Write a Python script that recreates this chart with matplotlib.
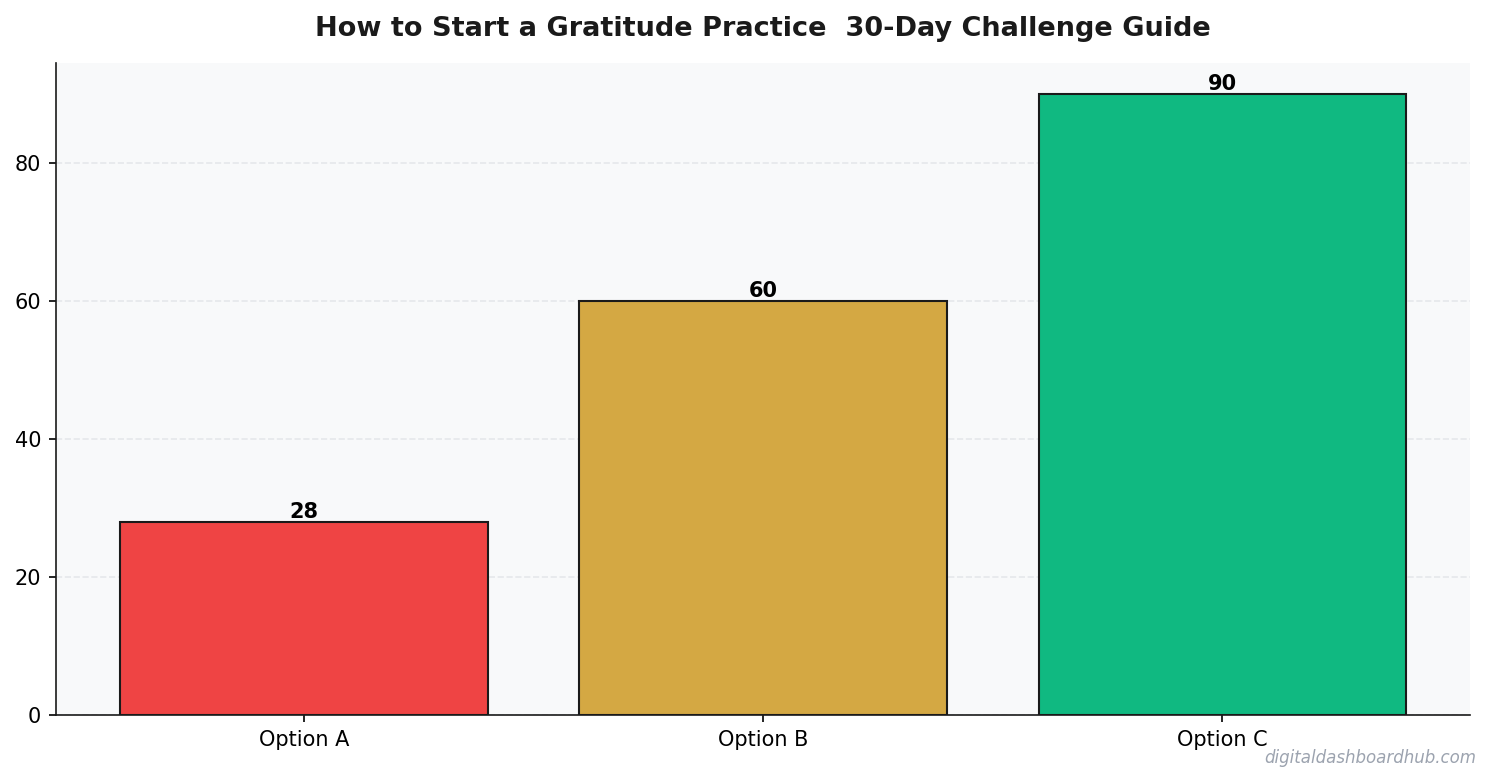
import matplotlib
matplotlib.use("Agg")
import matplotlib.pyplot as plt

categories = ["Option A", "Option B", "Option C"]
values = [28, 60, 90]
colors = ["#EF4444", "#D4A843", "#10B981"]

fig = plt.figure(figsize=(9.947, 5.22), dpi=150)
ax = fig.add_axes([0.0375, 0.0868, 0.9478, 0.8327])
ax.set_facecolor("#F8F9FA")

bars = ax.bar(categories, values, width=0.8, color=colors,
              edgecolor="#1a1a1a", linewidth=1.0, zorder=3)
for b, v in zip(bars, values):
    ax.text(b.get_x() + b.get_width() / 2, v, str(v), ha="center", va="bottom",
            fontsize=10, fontweight="bold", color="black", zorder=4)

ax.grid(axis="y", linestyle="--", color="#E5E7EB", linewidth=0.8, zorder=0)
ax.set_axisbelow(True)
for s in ["top", "right"]:
    ax.spines[s].set_visible(False)
ax.spines["left"].set_color("#1a1a1a")
ax.spines["bottom"].set_color("#1a1a1a")
ax.tick_params(labelsize=10)

ax.set_title("How to Start a Gratitude Practice  30-Day Challenge Guide",
             fontsize=13, fontweight="bold", color="#1a1a1a", pad=13)
fig.text(0.9895, 0.021, "digitaldashboardhub.com", ha="right", va="bottom",
         fontsize=8, style="italic", color="#9CA3AF")

fig.savefig("out.png", dpi=150)
